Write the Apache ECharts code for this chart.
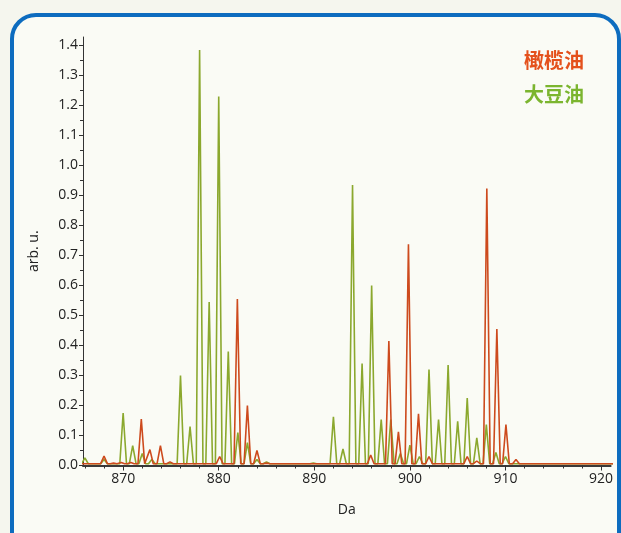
<!DOCTYPE html>
<html><head><meta charset="utf-8">
<script src="https://cdn.jsdelivr.net/npm/echarts@6/dist/echarts.min.js"></script>
<style>html,body{margin:0;padding:0;background:#f5f6ee;}#c{width:621px;height:533px;}</style>
</head><body><div id="c"></div>
<script>
// ---- data ----
const seriesNames = ['橄榄油', '大豆油'];
// soybean oil (green) peaks: m/z and intensity
const soyCenters = [866.0, 868.0, 870.0, 871.0, 872.0, 873.0, 876.0, 877.0, 878.0, 879.0, 880.0, 881.0, 882.0, 883.0, 884.0, 885.0, 889.9, 892.0, 893.0, 894.0, 895.0, 896.0, 897.0, 898.0, 899.0, 900.0, 901.0, 902.0, 903.0, 904.0, 905.0, 906.0, 907.0, 908.0, 909.0, 910.0, 918.0, 920.0];
const soyHeights = [0.025, 0.02, 0.175, 0.066, 0.04, 0.02, 0.30, 0.13, 1.385, 0.545, 1.23, 0.38, 0.11, 0.076, 0.02, 0.012, 0.008, 0.162, 0.055, 0.935, 0.34, 0.60, 0.153, 0.153, 0.04, 0.068, 0.03, 0.32, 0.153, 0.335, 0.147, 0.225, 0.092, 0.136, 0.043, 0.03, 0.006, 0.006];
// olive oil (red) peaks
const oliveCenters = [868.0, 869.0, 869.8, 870.8, 871.9, 872.8, 873.9, 874.9, 880.1, 881.95, 883.0, 884.0, 885.0, 886.0, 895.9, 897.8, 898.8, 899.85, 900.9, 902.0, 906.0, 907.0, 908.05, 909.1, 910.05, 911.1];
const oliveHeights = [0.031, 0.008, 0.01, 0.01, 0.155, 0.053, 0.066, 0.012, 0.03, 0.555, 0.2, 0.05, 0.008, 0.006, 0.035, 0.415, 0.112, 0.737, 0.172, 0.03, 0.03, 0.015, 0.923, 0.455, 0.136, 0.02];
const baseline = 0.006;
const xTickLabels = [870, 880, 890, 900, 910, 920];
const xMinorTicks = [866, 868, 872, 874, 876, 878, 882, 884, 886, 888, 892, 894, 896, 898, 902, 904, 906, 908, 912, 914, 916, 918];
const yTickLabels = [0, 0.1, 0.2, 0.3, 0.4, 0.5, 0.6, 0.7, 0.8, 0.9, 1.0, 1.1, 1.2, 1.3, 1.4];
const yMinorTicks = [0.05, 0.15, 0.25, 0.35, 0.45, 0.55, 0.65, 0.75, 0.85, 0.95, 1.05, 1.15, 1.25, 1.35];

const X_MIN = 865.8, X_MAX = 921, Y_MAX = 1.428;
const HALF = 0.35;
function buildLine(centers, heights) {
  const pts = [[X_MIN - 1, baseline]];
  centers.forEach((c, i) => {
    pts.push([c - HALF, baseline]);
    pts.push([c, heights[i]]);
    pts.push([c + HALF, baseline]);
  });
  pts.push([X_MAX + 1, baseline]);
  return pts;
}

const GREEN = '#8ba82e', RED = '#cd4a1d';
const FONT = '"Open Sans", "Noto Sans", sans-serif';
const chart = echarts.init(document.getElementById('c'), null, {renderer: 'canvas'});
chart.setOption({
  backgroundColor: '#f5f6ee',
  animation: false,
  graphic: [{
    type: 'rect', z: -10,
    shape: {x: 12, y: 15, width: 607, height: 545, r: 24},
    style: {fill: '#fafbf5', stroke: '#0d6cbf', lineWidth: 4}
  }],
  grid: {left: 83, top: 37, right: 10.4, bottom: 67.5},
  legend: {
    orient: 'vertical', left: 514, top: 45, itemGap: 14,
    icon: 'none', itemWidth: 0, itemHeight: 20, selectedMode: false,
    textStyle: {fontSize: 20, fontWeight: 'bold', fontFamily: '"Noto Sans CJK SC", sans-serif', lineHeight: 20},
    data: [
      {name: seriesNames[0], textStyle: {color: '#e4511c'}},
      {name: seriesNames[1], textStyle: {color: '#7bb52f'}}
    ]
  },
  xAxis: [{
    type: 'value', min: X_MIN, max: X_MAX,
    name: 'Da', nameLocation: 'middle', nameGap: 38,
    nameTextStyle: {fontSize: 14, color: '#222', fontFamily: FONT},
    axisLine: {show: true, lineStyle: {color: '#3a3a3a', width: 2}},
    axisTick: {show: true, customValues: xTickLabels, length: 5, lineStyle: {color: '#333'}},
    axisLabel: {customValues: xTickLabels, fontSize: 14, color: '#222', fontFamily: FONT, margin: 7},
    splitLine: {show: false}
  }, {
    type: 'value', min: X_MIN, max: X_MAX, position: 'bottom',
    axisLine: {show: false},
    axisTick: {show: true, customValues: xMinorTicks, length: 3, lineStyle: {color: '#333'}},
    axisLabel: {show: false},
    splitLine: {show: false}
  }],
  yAxis: [{
    type: 'value', min: 0, max: Y_MAX,
    name: 'arb. u.', nameLocation: 'middle', nameGap: 42, nameRotate: 90,
    nameTextStyle: {fontSize: 14, color: '#222', fontFamily: FONT},
    axisLine: {show: true, lineStyle: {color: '#333', width: 1}},
    axisTick: {show: true, customValues: yTickLabels, length: 4, lineStyle: {color: '#333'}},
    axisLabel: {customValues: yTickLabels, fontSize: 14, color: '#222', fontFamily: FONT, margin: 5,
      formatter: v => v.toFixed(1)},
    splitLine: {show: false}
  }, {
    type: 'value', min: 0, max: Y_MAX, position: 'left',
    axisLine: {show: false},
    axisTick: {show: true, customValues: yMinorTicks, length: 3, lineStyle: {color: '#333'}},
    axisLabel: {show: false},
    splitLine: {show: false}
  }],
  series: [{
    name: seriesNames[1], type: 'line', xAxisIndex: 0, yAxisIndex: 0,
    data: buildLine(soyCenters, soyHeights), showSymbol: false, symbol: 'none', clip: true,
    lineStyle: {color: GREEN, width: 1.6}, itemStyle: {color: GREEN}
  }, {
    name: seriesNames[0], type: 'line', xAxisIndex: 0, yAxisIndex: 0,
    data: buildLine(oliveCenters, oliveHeights), showSymbol: false, symbol: 'none', clip: true,
    lineStyle: {color: RED, width: 1.6}, itemStyle: {color: RED}
  }]
});
</script></body></html>
